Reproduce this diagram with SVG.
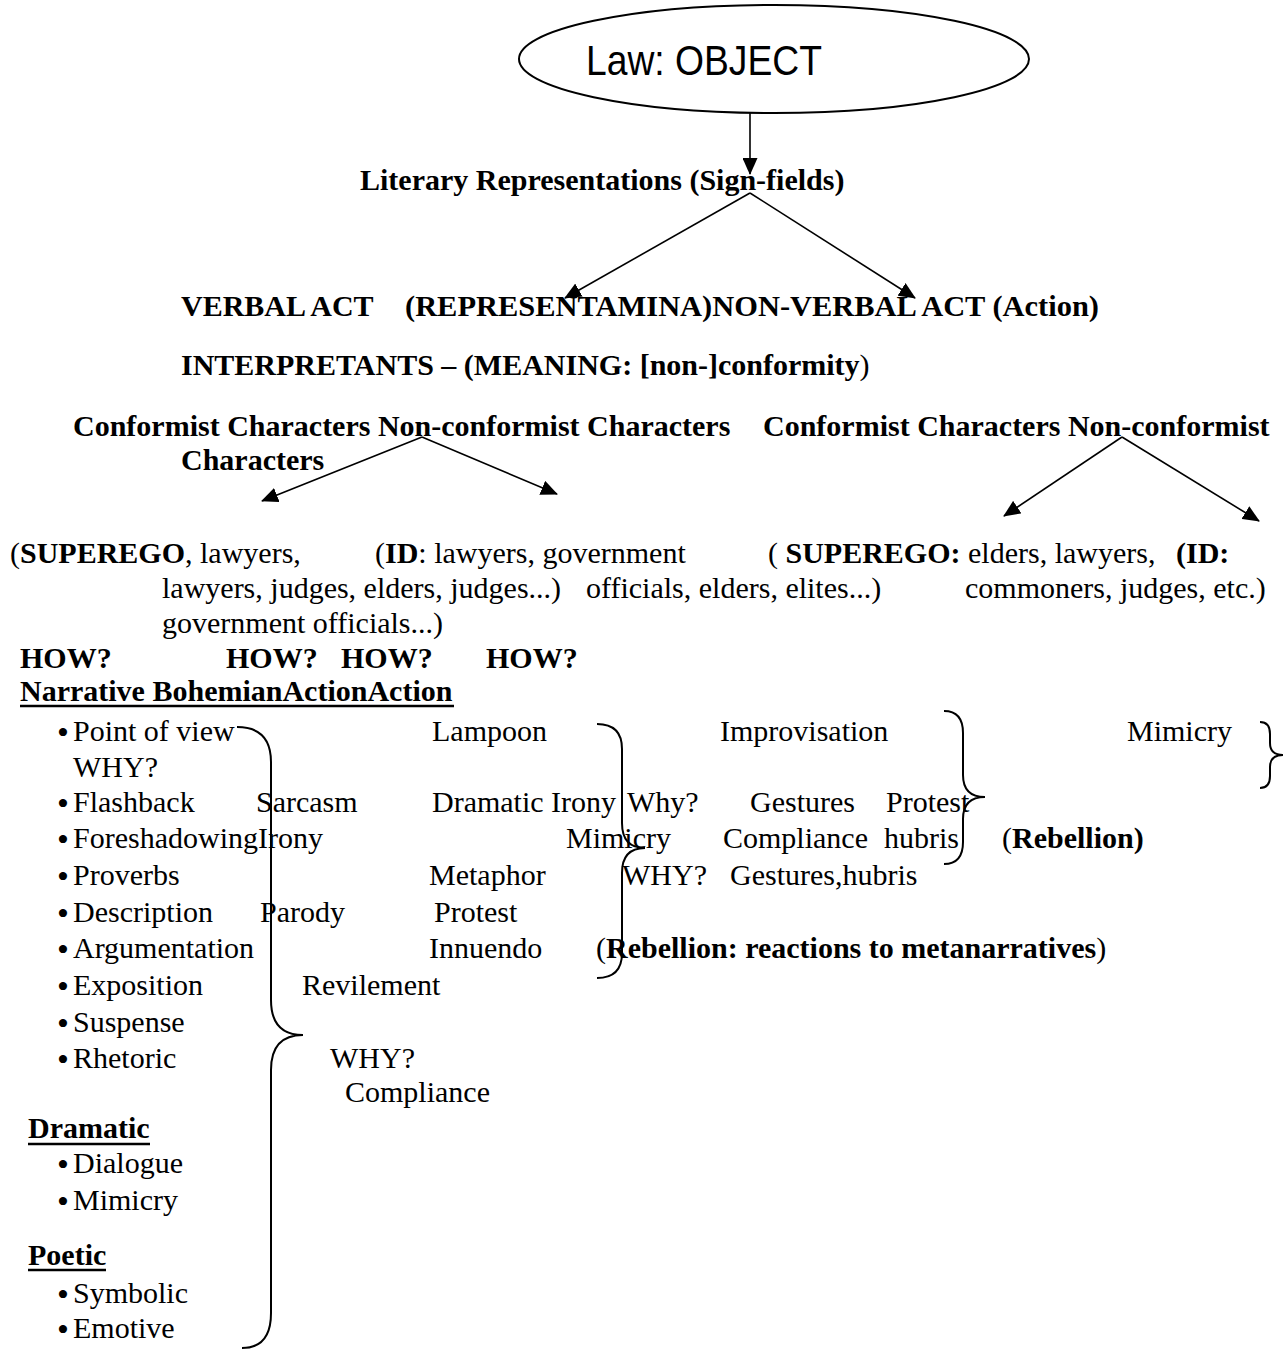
<svg xmlns="http://www.w3.org/2000/svg" width="1288" height="1350" viewBox="0 0 1288 1350">
<style>
.t{font-family:"Liberation Serif","Times New Roman",serif;font-size:30px;fill:#000}
.b{font-weight:bold}
.n{font-weight:normal}
.bl{font-family:"Liberation Serif","Times New Roman",serif;font-size:34px;fill:#000}
.sans{font-family:"Liberation Sans",Arial,sans-serif;font-size:43px;fill:#000}
.c{stroke:#000;stroke-width:1.6;fill:none}
.br{stroke:#000;stroke-width:2;fill:none}
.u{stroke:#000;stroke-width:2.5}
</style>
<defs>
<marker id="ah" markerUnits="userSpaceOnUse" markerWidth="17" markerHeight="15" refX="16" refY="7.5" orient="auto">
<path d="M0,0 L17,7.5 L0,15 Z" fill="#000"/>
</marker>
</defs>
<rect width="1288" height="1350" fill="#fff"/>

<g id="connectors">
<line class="c" x1="750" y1="113" x2="750" y2="174" marker-end="url(#ah)"/>
<line class="c" x1="750" y1="193" x2="565" y2="298" marker-end="url(#ah)"/>
<line class="c" x1="750" y1="193" x2="915" y2="298" marker-end="url(#ah)"/>
<line class="c" x1="422" y1="437" x2="262" y2="501" marker-end="url(#ah)"/>
<line class="c" x1="422" y1="437" x2="557" y2="494" marker-end="url(#ah)"/>
<line class="c" x1="1122" y1="437" x2="1004" y2="516" marker-end="url(#ah)"/>
<line class="c" x1="1122" y1="437" x2="1259" y2="521" marker-end="url(#ah)"/>
</g>

<g id="braces">
<path class="br" d="M237,727 Q271,727 271,762 L271,1000 Q271,1035 303,1035 Q271,1035 271,1070 L271,1313 Q271,1348 242,1348"/>
<path class="br" d="M597,724 Q622,724 622,749 L622,823 Q622,848 645,848 Q622,848 622,873 L622,953 Q622,978 597,978"/>
<path class="br" d="M944,711 Q963,711 963,733 L963,775 Q963,797 985,797 Q963,797 963,819 L963,842 Q963,864 944,864"/>
<path class="br" d="M1260,722 Q1270,722 1270,734 L1270,743 Q1270,755 1283,755 Q1270,755 1270,767 L1270,776 Q1270,788 1260,788"/>
</g>

<g id="node-law">
<ellipse cx="774" cy="59" rx="255" ry="54" fill="#fff" stroke="#000" stroke-width="2"/>
<text class="sans" x="704" y="75" text-anchor="middle" textLength="236" lengthAdjust="spacingAndGlyphs">Law: OBJECT</text>
</g>

<g id="node-literary">
<text class="t b" x="360" y="190">Literary Representations (Sign-fields)</text>
</g>

<g id="node-acts">
<text class="t b" x="181" y="316">VERBAL ACT</text>
<text class="t b" x="405" y="316" textLength="694" lengthAdjust="spacingAndGlyphs">(REPRESENTAMINA)NON-VERBAL ACT (Action)</text>
</g>

<g id="node-interpretants">
<text class="t b" x="181" y="375">INTERPRETANTS – (MEANING: [non-]conformity<tspan class="n">)</tspan></text>
</g>

<g id="node-characters">
<text class="t b" x="73" y="436">Conformist Characters Non-conformist Characters</text>
<text class="t b" x="763" y="436">Conformist Characters Non-conformist</text>
<text class="t b" x="181" y="470">Characters</text>
</g>

<g id="node-superego-id">
<text class="t" x="10" y="563">(<tspan class="b">SUPEREGO</tspan>, lawyers,</text>
<text class="t" x="375" y="563">(<tspan class="b">ID</tspan>: lawyers, government</text>
<text class="t" x="768" y="563">( <tspan class="b">SUPEREGO:</tspan> elders, lawyers,</text>
<text class="t b" x="1176" y="563">(ID:</text>
<text class="t" x="162" y="598">lawyers, judges, elders, judges...)</text>
<text class="t" x="586" y="598">officials, elders, elites...)</text>
<text class="t" x="965" y="598">commoners, judges, etc.)</text>
<text class="t" x="162" y="633">government officials...)</text>
</g>

<g id="node-how">
<text class="t b" x="20" y="668">HOW?</text>
<text class="t b" x="226" y="668">HOW?</text>
<text class="t b" x="341" y="668">HOW?</text>
<text class="t b" x="486" y="668">HOW?</text>
<text class="t b" x="20" y="701">Narrative BohemianActionAction</text>
<line class="u" x1="20" y1="706" x2="454" y2="706"/>
</g>

<g id="node-narrative-list">
<text class="bl" x="57" y="744">•</text><text class="t" x="73" y="741">Point of view</text>
<text class="t" x="73" y="777">WHY?</text>
<text class="bl" x="57" y="815">•</text><text class="t" x="73" y="812">Flashback</text>
<text class="bl" x="57" y="851">•</text><text class="t" x="73" y="848">ForeshadowingIrony</text>
<text class="bl" x="57" y="888">•</text><text class="t" x="73" y="885">Proverbs</text>
<text class="bl" x="57" y="925">•</text><text class="t" x="73" y="922">Description</text>
<text class="bl" x="57" y="961">•</text><text class="t" x="73" y="958">Argumentation</text>
<text class="bl" x="57" y="998">•</text><text class="t" x="73" y="995">Exposition</text>
<text class="bl" x="57" y="1035">•</text><text class="t" x="73" y="1032">Suspense</text>
<text class="bl" x="57" y="1071">•</text><text class="t" x="73" y="1068">Rhetoric</text>
</g>

<g id="node-bohemian">
<text class="t" x="256" y="812">Sarcasm</text>
<text class="t" x="260" y="922">Parody</text>
<text class="t" x="302" y="995">Revilement</text>
<text class="t" x="330" y="1068">WHY?</text>
<text class="t" x="345" y="1102">Compliance</text>
</g>

<g id="node-action1">
<text class="t" x="432" y="741">Lampoon</text>
<text class="t" x="432" y="812">Dramatic Irony</text>
<text class="t" x="566" y="848">Mimicry</text>
<text class="t" x="429" y="885">Metaphor</text>
<text class="t" x="434" y="922">Protest</text>
<text class="t" x="429" y="958">Innuendo</text>
<text class="t" x="627" y="812">Why?</text>
<text class="t" x="622" y="885">WHY?</text>
<text class="t" x="596" y="958">(<tspan class="b">Rebellion: reactions to metanarratives</tspan>)</text>
</g>

<g id="node-action2">
<text class="t" x="720" y="741">Improvisation</text>
<text class="t" x="750" y="812">Gestures</text>
<text class="t" x="886" y="812">Protest</text>
<text class="t" x="723" y="848">Compliance</text>
<text class="t" x="884" y="848">hubris</text>
<text class="t" x="730" y="885">Gestures,hubris</text>
<text class="t" x="1002" y="848">(<tspan class="b">Rebellion)</tspan></text>
<text class="t" x="1127" y="741">Mimicry</text>
</g>

<g id="node-dramatic">
<text class="t b" x="28" y="1138">Dramatic</text>
<line class="u" x1="28" y1="1144" x2="150" y2="1144"/>
<text class="bl" x="57" y="1176">•</text><text class="t" x="73" y="1173">Dialogue</text>
<text class="bl" x="57" y="1213">•</text><text class="t" x="73" y="1210">Mimicry</text>
</g>

<g id="node-poetic">
<text class="t b" x="28" y="1265">Poetic</text>
<line class="u" x1="28" y1="1270" x2="106" y2="1270"/>
<text class="bl" x="57" y="1306">•</text><text class="t" x="73" y="1303">Symbolic</text>
<text class="bl" x="57" y="1341">•</text><text class="t" x="73" y="1338">Emotive</text>
</g>
</svg>
